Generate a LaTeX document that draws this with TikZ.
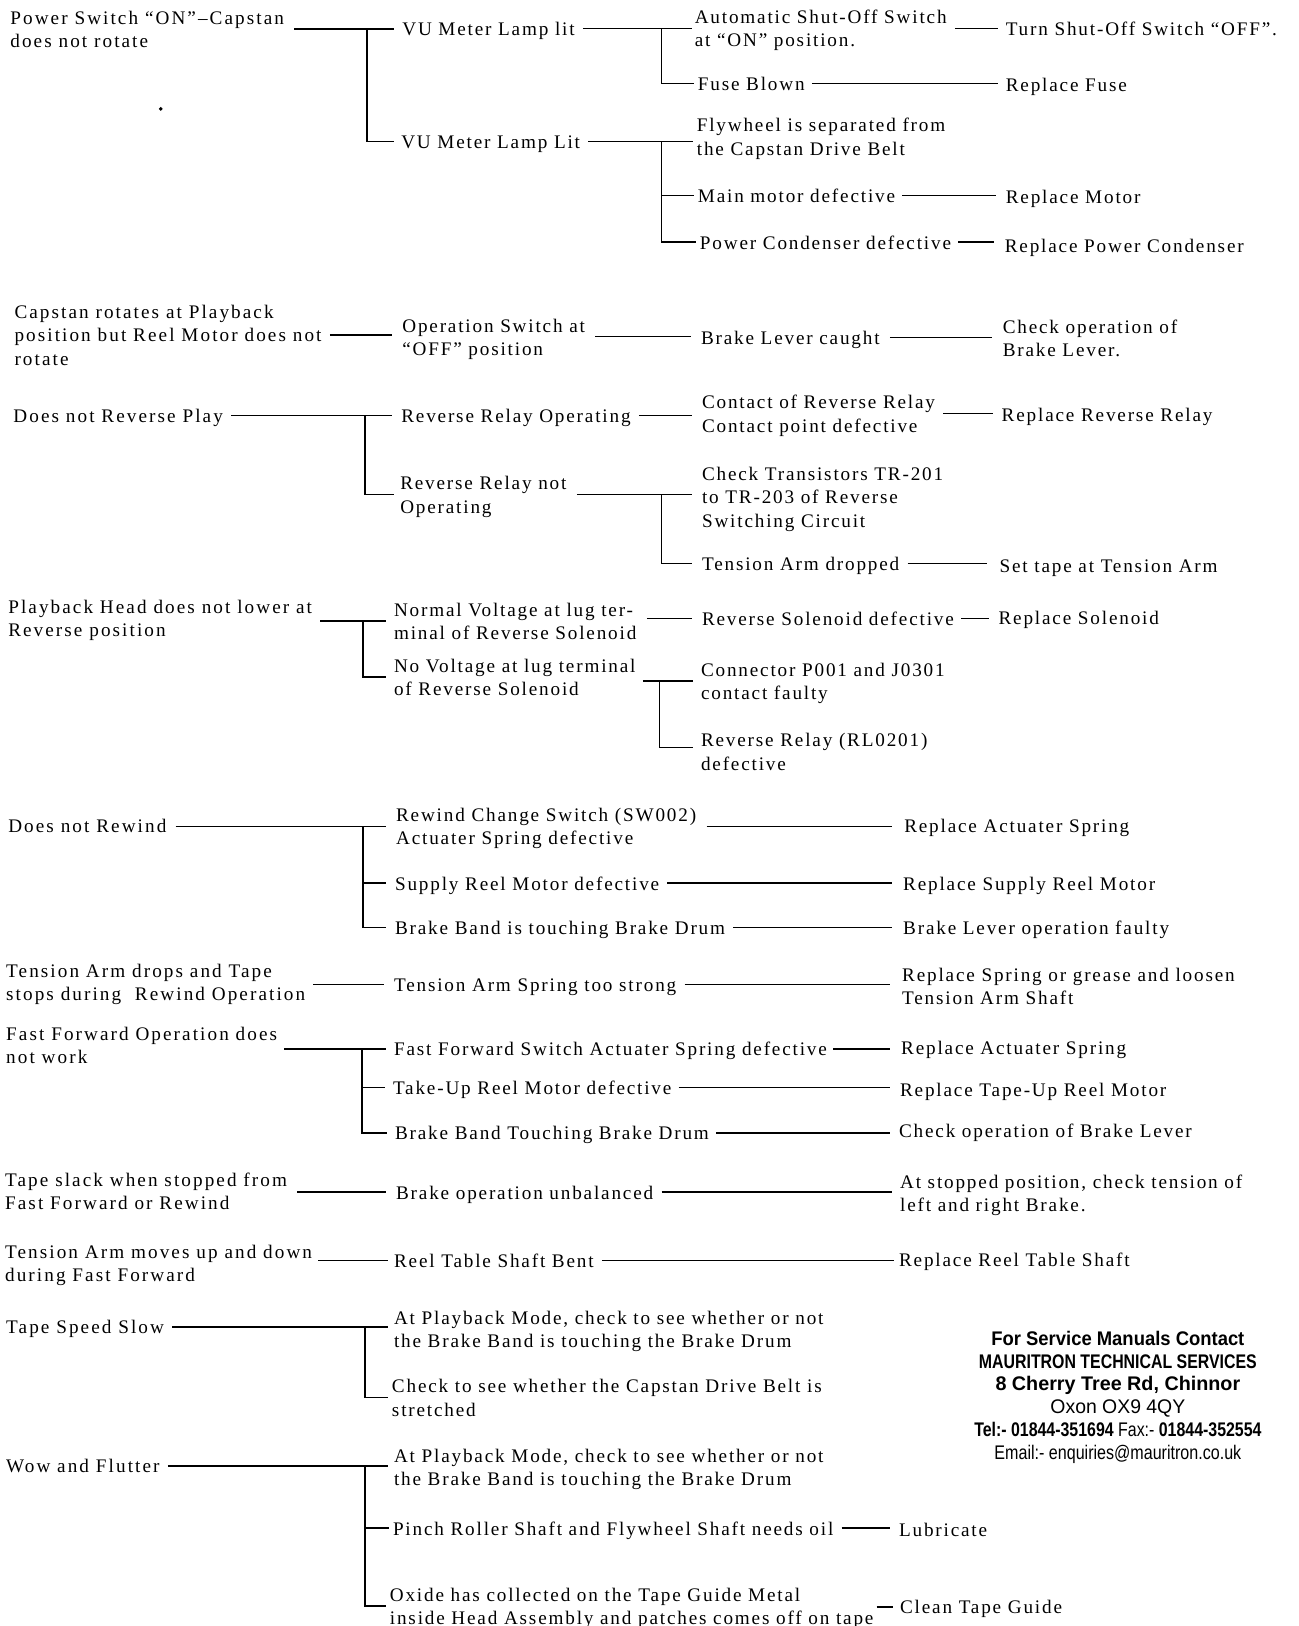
\documentclass[tikz,border=0pt]{standalone}
\usepackage{fontspec}
\setmainfont{Liberation Serif}[LetterSpace=9.5]
\newfontfamily\leftfont{Liberation Serif}[LetterSpace=10.8]
\newfontfamily\ftrfont{Liberation Sans}
\usepackage{graphicx}
\newcommand\mfs{\fontsize{18.5pt}{22.5pt}\selectfont}
\newcommand\lfs{\leftfont\fontsize{18.5pt}{22.5pt}\selectfont}
\newcommand\mystrut{\rule[-4.5pt]{0pt}{22.5pt}}
\begin{document}
\begin{tikzpicture}[x=1pt,y=-1pt,
  t/.style={anchor=north west, inner sep=0pt, outer sep=0pt, align=left, font=\mfs, yshift=15.75pt, execute at begin node=\mystrut, execute at end node=\mystrut},
  tl/.style={t, font=\lfs},
  tm/.style={t, execute at begin node={}, execute at end node={}},
  tml/.style={tm, font=\lfs},
  ln/.style={line width=1.4pt}]
\fill[white] (0,0) rectangle (1252,1568);
\useasboundingbox (0,0) rectangle (1252,1568);

% ---------- Block 1
\node[tml] (n1) at (10,21) {\mystrut Power Switch “ON”–Capstan\\does not rotate\mystrut};
\fill (155,105) circle (1.9pt);
\node[t] (n2) at (388,32) {VU Meter Lamp lit};
\node[t] (n3) at (387,141) {VU Meter Lamp Lit};
\node[tm] (n4) at (670,20) {\mystrut Automatic Shut-Off Switch\\at “ON” position.\mystrut};
\node[t] (n5) at (673,85) {Fuse Blown};
\node[t] (n6) at (970,32) {Turn Shut-Off Switch “OFF”.};
\node[t] (n7) at (970,86) {Replace Fuse};
\node[tm] (n8) at (672,125) {\mystrut Flywheel is separated from\\the Capstan Drive Belt\mystrut};
\node[t] (n9) at (673,193) {Main motor defective};
\node[t] (n10) at (675,238) {Power Condenser defective};
\node[t] (n11) at (970,194) {Replace Motor};
\node[t] (n12) at (969,241) {Replace Power Condenser};

\coordinate (j1) at (354,0 |- n1.east);
\draw[ln, shorten <=10pt, shorten >=8pt] (n1.east) -- (n2.west |- n1.east);
\draw[ln, shorten >=7pt] (j1) |- (n3.west);
\draw[ln, shorten <=8pt, shorten >=3pt] (n2.east) -- (n4.west |- n2.east);
\coordinate (j2) at (638,0 |- n2.east);
\draw[ln, shorten >=4pt] (j2) |- (n5.west);
\draw[ln, shorten <=8pt, shorten >=8pt] (n4.east |- n6.west) -- (n6.west);
\draw[ln, shorten <=7pt, shorten >=8pt] (n5.east) -- (n7.west |- n5.east);
\draw[ln, shorten <=8pt, shorten >=4pt] (n3.east) -- (n8.west |- n3.east);
\coordinate (j3) at (638,0 |- n3.east);
\draw[ln, shorten >=4pt] (j3) |- (n9.west);
\draw[ln, shorten >=4pt] (j3) |- (n10.west);
\draw[ln, shorten <=7pt, shorten >=10pt] (n9.east) -- (n11.west |- n9.east);
\draw[ln, shorten <=7pt, shorten >=10pt] (n10.east) -- (n12.west |- n10.east);

% ---------- Block 2
\node[tml] (n13) at (14,305) {\mystrut Capstan rotates at Playback\\position but Reel Motor does not\\rotate\mystrut};
\node[tm] (n14) at (388,318) {\mystrut Operation Switch at\\“OFF” position\mystrut};
\node[t] (n15) at (676,330) {Brake Lever caught};
\node[tm] (n16) at (967,319) {\mystrut Check operation of\\Brake Lever.\mystrut};
\draw[ln, shorten <=8pt, shorten >=10pt] (n13.east) -- (n14.west |- n13.east);
\draw[ln, shorten <=10pt, shorten >=10pt] (n14.east) -- (n15.west |- n14.east);
\draw[ln, shorten <=10pt, shorten >=10pt] (n15.east) -- (n16.west |- n15.east);

% ---------- Block 3
\node[tl] (n17) at (13,405) {Does not Reverse Play};
\node[t] (n18) at (387,405) {Reverse Relay Operating};
\node[tm] (n19) at (386,470) {\mystrut Reverse Relay not\\Operating\mystrut};
\node[tm] (n20) at (677,392) {\mystrut Contact of Reverse Relay\\Contact point defective\mystrut};
\node[t] (n21) at (966,404) {Replace Reverse Relay};
\node[tm] (n22) at (677,461) {\mystrut Check Transistors TR-201\\to TR-203 of Reverse\\Switching Circuit\mystrut};
\node[t] (n23) at (677,548) {Tension Arm dropped};
\node[t] (n24) at (964,550) {Set tape at Tension Arm};
\draw[ln, shorten <=8pt, shorten >=9pt] (n17.east) -- (n18.west |- n17.east);
\coordinate (j4) at (352,0 |- n17.east);
\draw[ln, shorten >=6pt] (j4) |- (n19.west);
\draw[ln, shorten <=8pt, shorten >=10pt] (n18.east) -- (n20.west |- n18.east);
\draw[ln, shorten <=8pt, shorten >=8pt] (n20.east) -- (n21.west |- n20.east);
\draw[ln, shorten <=10pt, shorten >=10pt] (n19.east) -- (n22.west |- n19.east);
\coordinate (j5) at (638,0 |- n19.east);
\draw[ln, shorten >=10pt] (j5) |- (n23.west);
\draw[ln, shorten <=8pt, shorten >=12pt] (n23.east) -- (n24.west |- n23.east);

% ---------- Block 4
\node[tml] (n25) at (8,589) {\mystrut Playback Head does not lower at\\Reverse position\mystrut};
\node[tm] (n26) at (380,592) {\mystrut Normal Voltage at lug ter-\\minal of Reverse Solenoid\mystrut};
\node[tm] (n27) at (380,646) {\mystrut No Voltage at lug terminal\\of Reverse Solenoid\mystrut};
\node[t] (n28) at (677,601) {Reverse Solenoid defective};
\node[t] (n29) at (963,600) {Replace Solenoid};
\node[tm] (n30) at (676,650) {\mystrut Connector P001 and J0301\\contact faulty\mystrut};
\node[tm] (n31) at (676,718) {\mystrut Reverse Relay (RL0201)\\defective\mystrut};
\draw[ln, shorten <=8pt, shorten >=8pt] (n25.east |- n26.west) -- (n26.west);
\coordinate (j6) at (350,0 |- n26.west);
\draw[ln, shorten >=8pt] (j6) |- (n27.west);
\draw[ln, shorten <=10pt, shorten >=10pt] (n26.east |- n28.west) -- (n28.west);
\draw[ln, shorten <=7pt, shorten >=9pt] (n28.east) -- (n29.west |- n28.east);
\draw[ln, shorten <=7pt, shorten >=8pt] (n27.east |- n30.west) -- (n30.west);
\coordinate (j7) at (636,0 |- n30.west);
\draw[ln, shorten >=8pt] (j7) |- ([yshift=4pt]n31.west);

% ---------- Block 5
\node[tl] (n32) at (8,801) {Does not Rewind};
\node[tm] (n33) at (382,790) {\mystrut Rewind Change Switch (SW002)\\Actuater Spring defective\mystrut};
\node[t] (n34) at (381,856) {Supply Reel Motor defective};
\node[t] (n35) at (381,899) {Brake Band is touching Brake Drum};
\node[t] (n36) at (872,801) {Replace Actuater Spring};
\node[t] (n37) at (871,856) {Replace Supply Reel Motor};
\node[t] (n38) at (871,899) {Brake Lever operation faulty};
\draw[ln, shorten <=9pt, shorten >=10pt] (n32.east |- n33.west) -- (n33.west);
\coordinate (j8) at (350,0 |- n33.west);
\draw[ln, shorten >=9pt] (j8) |- (n34.west);
\draw[ln, shorten >=9pt] (j8) |- (n35.west);
\draw[ln, shorten <=10pt, shorten >=12pt] (n33.east) -- (n36.west |- n33.east);
\draw[ln, shorten <=8pt, shorten >=11pt] (n34.east) -- (n37.west |- n34.east);
\draw[ln, shorten <=8pt, shorten >=11pt] (n35.east) -- (n38.west |- n35.east);

% ---------- Block 6
\node[tml] (n39) at (6,940) {\mystrut Tension Arm drops and Tape\\stops during~~Rewind Operation\mystrut};
\node[t] (n40) at (380,954) {Tension Arm Spring too strong};
\node[tm] (n41) at (870,944) {\mystrut Replace Spring or grease and loosen\\Tension Arm Shaft\mystrut};
\draw[ln, shorten <=8pt, shorten >=10pt] (n39.east |- n40.west) -- (n40.west);
\draw[ln, shorten <=8pt, shorten >=12pt] (n40.east) -- (n41.west |- n40.east);

% ---------- Block 7
\node[tml] (n42) at (6,1001) {\mystrut Fast Forward Operation does\\not work\mystrut};
\node[t] (n43) at (380,1016) {Fast Forward Switch Actuater Spring defective};
\node[t] (n44) at (379,1053) {Take-Up Reel Motor defective};
\node[t] (n45) at (381,1097) {Brake Band Touching Brake Drum};
\node[t] (n46) at (869,1015) {Replace Actuater Spring};
\node[t] (n47) at (868,1055) {Replace Tape-Up Reel Motor};
\node[t] (n48) at (867,1095) {Check operation of Brake Lever};
\draw[ln, shorten <=7pt, shorten >=8pt] (n42.east |- n43.west) -- (n43.west);
\coordinate (j9) at (349,0 |- n43.west);
\draw[ln, shorten >=8pt] (j9) |- (n44.west);
\draw[ln, shorten >=8pt] (j9) |- (n45.west);
\draw[ln, shorten <=6pt, shorten >=11pt] (n43.east) -- (n46.west |- n43.east);
\draw[ln, shorten <=7pt, shorten >=10pt] (n44.east) -- (n47.west |- n44.east);
\draw[ln, shorten <=7pt, shorten >=9pt] (n45.east) -- (n48.west |- n45.east);

% ---------- Block 8
\node[tml] (n49) at (5,1142) {\mystrut Tape slack when stopped from\\Fast Forward or Rewind\mystrut};
\node[t] (n50) at (382,1154) {Brake operation unbalanced};
\node[tm] (n51) at (868,1144) {\mystrut At stopped position, check tension of\\left and right Brake.\mystrut};
\draw[ln, shorten <=10pt, shorten >=10pt] (n49.east |- n50.west) -- (n50.west);
\draw[ln, shorten <=8pt, shorten >=8pt] (n50.east) -- (n51.west |- n50.east);

% ---------- Block 9
\node[tml] (n52) at (5,1211) {\mystrut Tension Arm moves up and down\\during Fast Forward\mystrut};
\node[t] (n53) at (380,1220) {Reel Table Shaft Bent};
\node[t] (n54) at (867,1219) {Replace Reel Table Shaft};
\draw[ln, shorten <=6pt, shorten >=6pt] (n52.east |- n53.west) -- (n53.west);
\draw[ln, shorten <=8pt, shorten >=5pt] (n53.east) -- (n54.west |- n53.east);

% ---------- Block 10
\node[tl] (n55) at (6,1284) {Tape Speed Slow};
\node[tm] (n56) at (380,1275) {\mystrut At Playback Mode, check to see whether or not\\the Brake Band is touching the Brake Drum\mystrut};
\node[tm] (n57) at (378,1341) {\mystrut Check to see whether the Capstan Drive Belt is\\stretched\mystrut};
\draw[ln, shorten <=8pt, shorten >=6pt] (n55.east) -- (n56.west |- n55.east);
\coordinate (j10) at (352,0 |- n55.east);
\draw[ln, shorten >=4pt] (j10) |- (n57.west);

% ---------- Block 11
\node[tl] (n58) at (6,1418) {Wow and Flutter};
\node[tm] (n59) at (380,1408) {\mystrut At Playback Mode, check to see whether or not\\the Brake Band is touching the Brake Drum\mystrut};
\node[t] (n60) at (379,1478) {Pinch Roller Shaft and Flywheel Shaft needs oil};
\node[tm] (n61) at (376,1542) {\mystrut Oxide has collected on the Tape Guide Metal\\inside Head Assembly and patches comes off on tape\mystrut};
\node[t] (n62) at (867,1479) {Lubricate};
\node[t] (n63) at (868,1554) {Clean Tape Guide};
\draw[ln, shorten <=8pt, shorten >=6pt] (n58.east) -- (n59.west |- n58.east);
\coordinate (j11) at (352,0 |- n58.east);
\draw[ln, shorten >=4pt] (j11) |- (n60.west);
\draw[ln, shorten >=4pt] (j11) |- (n61.west);
\draw[ln, shorten <=8pt, shorten >=9pt] (n60.east) -- (n62.west |- n60.east);
\draw[ln, shorten <=3pt, shorten >=7pt] (n61.east |- n63.west) -- (n63.west);

% ---------- Footer
\node[anchor=north, inner sep=0pt, align=center, font=\ftrfont\fontsize{19pt}{22pt}\selectfont, yshift=15.4pt] (ftr) at (1078,1297) {%
\strut\resizebox{244pt}{\height}{\bfseries For Service Manuals Contact}\\
\resizebox{268pt}{\height}{\bfseries MAURITRON TECHNICAL SERVICES}\\
\resizebox{236pt}{\height}{\bfseries 8 Cherry Tree Rd, Chinnor}\\
\resizebox{130pt}{\height}{Oxon OX9 4QY}\\
\resizebox{277pt}{\height}{\bfseries Tel:- 01844-351694 \mdseries Fax:- \bfseries 01844-352554}\\
\resizebox{238pt}{\height}{Email:- enquiries@mauritron.co.uk}\strut};
\end{tikzpicture}
\end{document}
